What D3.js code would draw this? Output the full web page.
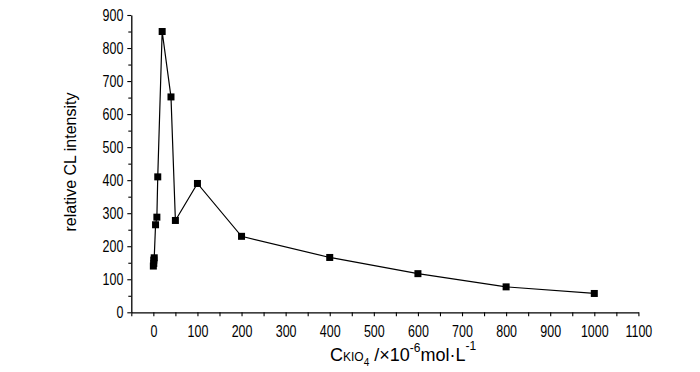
<!DOCTYPE html>
<html>
<head>
<meta charset="utf-8">
<script src="https://cdn.jsdelivr.net/npm/d3@7"></script>
<style>
  body { margin: 0; background: #fff; }
  text { font-family: "Liberation Sans", Arial, sans-serif; fill: #000; }
</style>
</head>
<body>
<div id="chart"></div>
<script>
// concentration of KIO4 (x 10^-6 mol/L) and relative CL intensity
var conc      = [0, 1, 1, 2, 5, 8, 10, 20, 40, 50, 100, 200, 400, 600, 800, 1000];
var intensity = [140, 148, 158, 165, 265, 288, 410, 850, 652, 278, 390, 230, 166, 117, 77, 57];

var xTicks = [0, 100, 200, 300, 400, 500, 600, 700, 800, 900, 1000, 1100];
var yTicks = [0, 100, 200, 300, 400, 500, 600, 700, 800, 900];

var data = conc.map(function(c, i) { return {x: c, y: intensity[i]}; });

var W = 700, H = 372;
var squeeze = 0.78; // tick labels are set in a narrow face

var svg = d3.select("#chart")
  .append("svg")
    .attr("width", W)
    .attr("height", H);

var x = d3.scaleLinear()
  .domain([-50, 1100])
  .range([131.3, 638.4]);

var y = d3.scaleLinear()
  .domain([0, 900])
  .range([312.3, 15]);

// minor ticks (every 50)
var xMinor = d3.range(-50, 1100, 100);
var yMinor = d3.range(50, 900, 100);

// X axis
var gx = svg.append("g")
  .attr("transform", "translate(0," + y(0) + ")")
  .call(d3.axisBottom(x).tickValues(xTicks).tickSize(4).tickSizeOuter(0).tickPadding(9).tickFormat(d3.format("d")));
gx.select(".domain").attr("stroke-width", 1.3);
gx.selectAll(".tick line").attr("stroke-width", 1.1);
gx.selectAll("text")
  .style("font-size", "16px")
  .attr("transform", "scale(" + squeeze + ",1)");

svg.append("g")
  .attr("transform", "translate(0," + y(0) + ")")
  .call(d3.axisBottom(x).tickValues(xMinor).tickSize(4).tickFormat(""))
  .call(function(g) { g.select(".domain").remove(); })
  .selectAll("line").attr("stroke-width", 1.1);

// Y axis
var gy = svg.append("g")
  .attr("transform", "translate(" + x(-50) + ",0)")
  .call(d3.axisLeft(y).tickValues(yTicks).tickSize(4).tickSizeOuter(0).tickPadding(4).tickFormat(d3.format("d")));
gy.select(".domain").attr("stroke-width", 1.3);
gy.selectAll(".tick line").attr("stroke-width", 1.1);
gy.selectAll("text")
  .style("font-size", "16px")
  .attr("x", -8 / squeeze)
  .attr("transform", "scale(" + squeeze + ",1)");

svg.append("g")
  .attr("transform", "translate(" + x(-50) + ",0)")
  .call(d3.axisLeft(y).tickValues(yMinor).tickSize(3).tickFormat(""))
  .call(function(g) { g.select(".domain").remove(); })
  .selectAll("line").attr("stroke-width", 1.1);

// line
var line = d3.line()
  .x(function(d) { return x(d.x); })
  .y(function(d) { return y(d.y); });

svg.append("path")
  .datum(data)
  .attr("fill", "none")
  .attr("stroke", "#000")
  .attr("stroke-width", 1.2)
  .attr("d", line);

// square markers
svg.selectAll(".pt")
  .data(data)
  .enter()
  .append("rect")
    .attr("class", "pt")
    .attr("x", function(d) { return x(d.x) - 3.5; })
    .attr("y", function(d) { return y(d.y) - 3.5; })
    .attr("width", 7)
    .attr("height", 7)
    .attr("fill", "#000");

// Y axis title
svg.append("text")
  .attr("transform", "translate(76,162) rotate(-90)")
  .attr("text-anchor", "middle")
  .style("font-size", "16px")
  .text("relative CL intensity");

// X axis title with sub/superscripts
var xt = svg.append("text")
  .attr("x", 330)
  .attr("y", 361)
  .style("font-size", "18px");
xt.append("tspan").text("C");
xt.append("tspan").style("font-size", "12px").text("KIO");
xt.append("tspan").style("font-size", "10px").attr("dy", 5).text("4");
xt.append("tspan").attr("dy", -5).text(" /\u00d710");
xt.append("tspan").style("font-size", "12px").attr("dy", -9).text("-6");
xt.append("tspan").attr("dy", 9).text("mol\u00b7L");
xt.append("tspan").style("font-size", "12px").attr("dy", -11).text("-1");
</script>
</body>
</html>
